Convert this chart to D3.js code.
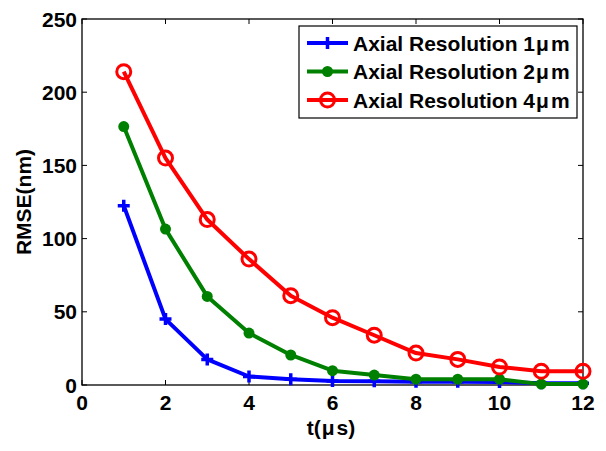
<!DOCTYPE html>
<html><head><meta charset="utf-8">
<script src="https://cdn.jsdelivr.net/npm/d3@7"></script>
<style>body{margin:0;background:#fff}svg{display:block}text{font-family:"Liberation Sans",Arial,sans-serif;font-weight:bold}</style>
</head><body>
<svg id="c" width="606" height="451"></svg>
<script>
const tValues = [1,2,3,4,5,6,7,8,9,10,11,12];
const res1um = [122.5,45,17.5,5.8,3.9,2.8,2.6,2.3,2.2,2.1,1.2,1.2];
const res2um = [176.5,106.5,60.5,35.5,20.5,9.8,6.8,4,4,4,0.6,0.6];
const res4um = [214,155,113,86,61,46,34,21.8,17.5,12.3,9.4,9.4];
const seriesPrefix = ["Axial Resolution 1","Axial Resolution 2","Axial Resolution 4"];
const seriesColors = ["#0000ff","#008000","#ff0000"];
const xTicks = [0,2,4,6,8,10,12];
const yTicks = [0,50,100,150,200,250];

const svg = d3.select("#c");
const L=82,R=583,T=19,B=385;
const FS=21;
const x = d3.scaleLinear().domain([0,12]).range([L,R]);
const y = d3.scaleLinear().domain([0,250]).range([B,T]);

const g = svg.append("g");
g.append("rect").attr("x",L).attr("y",T).attr("width",R-L).attr("height",B-T)
 .attr("fill","none").attr("stroke","#000").attr("stroke-width",1.3);
const tl=5;
xTicks.forEach(v=>{
  g.append("line").attr("x1",x(v)).attr("x2",x(v)).attr("y1",B).attr("y2",B-tl).attr("stroke","#000");
  g.append("line").attr("x1",x(v)).attr("x2",x(v)).attr("y1",T).attr("y2",T+tl).attr("stroke","#000");
  g.append("text").attr("x",x(v)).attr("y",B+25).attr("text-anchor","middle").attr("font-size",FS).text(v);
});
yTicks.forEach(v=>{
  g.append("line").attr("x1",L).attr("x2",L+tl).attr("y1",y(v)).attr("y2",y(v)).attr("stroke","#000");
  g.append("line").attr("x1",R).attr("x2",R-tl).attr("y1",y(v)).attr("y2",y(v)).attr("stroke","#000");
  g.append("text").attr("x",L-5).attr("y",y(v)+7.5).attr("text-anchor","end").attr("font-size",FS).text(v);
});
const xl=g.append("text").attr("x",331).attr("y",435).attr("text-anchor","middle").attr("font-size",FS);
xl.append("tspan").text("t(");
xl.append("tspan").attr("dx",1).text("\u03bc");
xl.append("tspan").attr("dx",2).text("s)");
g.append("text").attr("transform","translate(31,"+((T+B)/2)+") rotate(-90)").attr("text-anchor","middle").attr("font-size",FS).text("RMSE(nm)");

const line = d3.line().x((d,i)=>x(tValues[i])).y(d=>y(d));
const allSeries=[res1um,res2um,res4um];
function marker(sel,k,cx,cy){
  const c=seriesColors[k];
  if(k===0){
    sel.append("path").attr("d",`M${cx-6},${cy}H${cx+6}M${cx},${cy-6}V${cy+6}`).attr("stroke",c).attr("stroke-width",3.5).attr("fill","none");
  } else if(k===1){
    sel.append("circle").attr("cx",cx).attr("cy",cy).attr("r",5.5).attr("fill",c);
  } else {
    sel.append("circle").attr("cx",cx).attr("cy",cy).attr("r",7).attr("fill","none").attr("stroke",c).attr("stroke-width",3);
  }
}
allSeries.forEach((s,k)=>{
  const gg=svg.append("g");
  gg.append("path").attr("d",line(s)).attr("fill","none").attr("stroke",seriesColors[k]).attr("stroke-width",4).attr("stroke-linejoin","round");
  s.forEach((v,i)=>marker(gg,k,x(tValues[i]),y(v)));
});

const lg=svg.append("g");
lg.append("rect").attr("x",299).attr("y",26).attr("width",278).attr("height",92).attr("fill","#fff").attr("stroke","#000").attr("stroke-width",1.2);
seriesPrefix.forEach((n,k)=>{
  const yy=43+k*28.5;
  lg.append("line").attr("x1",307).attr("x2",348).attr("y1",yy).attr("y2",yy).attr("stroke",seriesColors[k]).attr("stroke-width",4);
  marker(lg,k,327.5,yy);
  const t=lg.append("text").attr("x",353).attr("y",yy+7.5).attr("font-size",FS);
  t.append("tspan").text(n);
  t.append("tspan").attr("dx",1).text("\u03bc");
  t.append("tspan").attr("dx",2).text("m");
});
</script>
</body></html>
